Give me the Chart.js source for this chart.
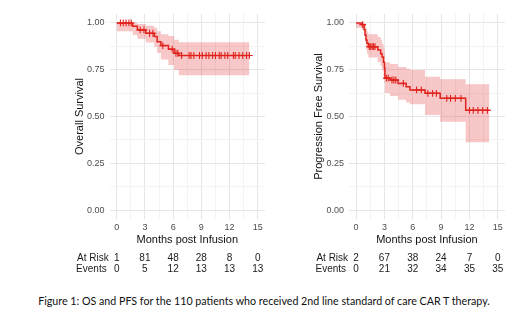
<!DOCTYPE html>
<html>
<head>
<meta charset="utf-8">
<script src="https://cdn.jsdelivr.net/npm/chart.js@4"></script>
<style>
  body { margin: 0; background: #fff; }
  #wrap { position: relative; width: 520px; height: 318px; overflow: hidden; }
  canvas { position: absolute; top: 0; }
  #osChart { left: 60px; }
  #pfsChart { left: 300px; }
  #caption {
    position: absolute; left: 4px; width: 520px; top: 294px;
    text-align: center; font-family: Lato, "Open Sans", sans-serif; font-size: 10.7px; color: #111;
  }
</style>
</head>
<body>
<div id="wrap">
  <canvas id="osChart" width="210" height="285"></canvas>
  <canvas id="pfsChart" width="210" height="285"></canvas>
  <div id="caption">Figure 1: OS and PFS for the 110 patients who received 2nd line standard of care CAR T therapy.</div>
</div>
<script>
// Overall survival (months, estimate, 95% CI)
const osTimes = [0, 1.7, 2.2, 3.1, 4.0, 4.3, 4.7, 5.5, 6.1, 6.6, 14.1];
const osSurv  = [1, 0.982, 0.963, 0.945, 0.927, 0.900, 0.879, 0.860, 0.838, 0.826, 0.826];
const osLower = [0.955, 0.936, 0.915, 0.895, 0.873, 0.840, 0.805, 0.775, 0.749, 0.720, 0.720];
const osUpper = [1, 1, 0.995, 0.985, 0.975, 0.955, 0.940, 0.930, 0.910, 0.897, 0.897];
const osCensor = [0.4, 0.7, 1.0, 1.3, 1.55, 2.5, 2.9, 3.5, 3.85, 4.9, 5.9, 6.3, 6.5, 6.9, 7.7, 7.9, 8.2,
                  8.8, 9.1, 9.5, 9.8, 10.2, 10.5, 10.9, 11.1, 11.5, 11.8, 12.4, 12.6, 13.0, 13.4, 13.8, 14.1];

// Progression free survival
const pfsTimes = [0, 0.6, 0.85, 0.95, 1.05, 1.15, 1.3, 2.3, 2.6, 2.75, 2.9, 3.0, 3.05, 3.6, 4.45, 5.3, 5.7, 7.3, 8.9, 11.6, 14.1];
const pfsSurv  = [1, 0.991, 0.964, 0.936, 0.909, 0.891, 0.873, 0.855, 0.836, 0.818, 0.790, 0.760, 0.705, 0.695, 0.677, 0.659, 0.642, 0.624, 0.597, 0.533, 0.533];
const pfsLower = [0.975, 0.965, 0.930, 0.895, 0.860, 0.835, 0.815, 0.790, 0.770, 0.745, 0.715, 0.680, 0.625, 0.610, 0.590, 0.575, 0.565, 0.508, 0.472, 0.362, 0.362];
const pfsUpper = [1, 1, 1, 0.990, 0.970, 0.955, 0.940, 0.925, 0.910, 0.890, 0.870, 0.840, 0.790, 0.780, 0.765, 0.755, 0.749, 0.713, 0.699, 0.672, 0.672];
const pfsCensor = [0.7, 1.4, 1.55, 1.7, 1.85, 2.0, 3.2, 3.4, 3.8, 4.0, 4.2, 5.0, 6.4, 6.9, 7.6, 8.1, 8.5,
                   9.6, 10.0, 10.5, 11.1, 12.0, 12.4, 12.9, 13.4, 13.9];

// risk table
const tableTimes = [0, 3, 6, 9, 12, 15];
const osAtRisk = [1, 81, 48, 28, 8, 0];
const osEvents = [0, 5, 12, 13, 13, 13];
const pfsAtRisk = [2, 67, 38, 24, 7, 0];
const pfsEvents = [0, 21, 32, 34, 35, 35];

const xTicks = [0, 1.5, 3, 4.5, 6, 7.5, 9, 10.5, 12, 13.5, 15];
const yTicks = [0, 0.125, 0.25, 0.375, 0.5, 0.625, 0.75, 0.875, 1];

const red = '#e0221c';
const band = 'rgba(232, 70, 70, 0.30)';

function survAt(times, surv, t) {
    let s = surv[0];
    for (let i = 0; i < times.length; i++) {
        if (times[i] <= t) s = surv[i];
    }
    return s;
}

function pts(times, vals) {
    return times.map((t, i) => ({x: t, y: vals[i]}));
}

function isMajor(v, step) {
    return Math.abs(v / step - Math.round(v / step)) < 1e-6;
}

const riskTable = {
    id: 'riskTable',
    afterDraw(chart, args, opts) {
        const ctx = chart.ctx;
        const x = chart.scales.x;
        ctx.save();
        ctx.font = '10px "Liberation Sans", Arial, sans-serif';
        ctx.fillStyle = '#1a1a1a';
        ctx.textBaseline = 'middle';
        ctx.textAlign = 'right';
        const labelX = x.getPixelForValue(0) - 8;
        ctx.fillText('At Risk', labelX, opts.rowY[0]);
        ctx.fillText('Events', labelX - 2, opts.rowY[1]);
        ctx.textAlign = 'center';
        tableTimes.forEach((t, i) => {
            const px = x.getPixelForValue(t);
            ctx.fillText(String(opts.atRisk[i]), px, opts.rowY[0]);
            ctx.fillText(String(opts.events[i]), px, opts.rowY[1]);
        });
        ctx.restore();
    }
};

function makeKM(id, cfg) {
    const censorPts = cfg.censor.map(t => ({x: t, y: survAt(cfg.times, cfg.surv, t)}));
    return new Chart(document.getElementById(id), {
        type: 'line',
        data: {
            datasets: [
                {data: pts(cfg.times, cfg.upper), stepped: true, borderWidth: 0, pointRadius: 0,
                 fill: false, backgroundColor: band, order: 3},
                {data: pts(cfg.times, cfg.lower), stepped: true, borderWidth: 0, pointRadius: 0,
                 fill: '-1', backgroundColor: band, order: 3},
                {data: pts(cfg.times, cfg.surv), stepped: true, borderColor: red, borderWidth: 1.5,
                 pointRadius: 0, fill: false, order: 1},
                {type: 'scatter', data: censorPts, pointStyle: 'cross', pointRadius: 3.4,
                 borderColor: red, borderWidth: 1.1, order: 0}
            ]
        },
        options: {
            responsive: false,
            animation: false,
            events: [],
            layout: {padding: {top: 13.6, right: cfg.padRight, bottom: 38.4, left: 0}},
            plugins: {
                legend: {display: false},
                tooltip: {enabled: false},
                riskTable: {atRisk: cfg.atRisk, events: cfg.events, rowY: [258.7, 269.5]}
            },
            scales: {
                x: {
                    type: 'linear', min: -0.75, max: 15.75,
                    afterBuildTicks: s => { s.ticks = xTicks.map(v => ({value: v})); },
                    afterFit: s => { s.height = 27.2; },
                    ticks: {
                        autoSkip: false, maxRotation: 0, padding: 3, color: '#4d4d4d',
                        font: {family: '"Liberation Sans", Arial, sans-serif', size: 9},
                        callback: v => isMajor(v, 3) ? String(v) : ''
                    },
                    grid: {
                        drawTicks: false,
                        color: c => isMajor(c.tick.value, 3) ? '#e6e6e6' : '#f3f3f3',
                        lineWidth: 1
                    },
                    border: {display: false},
                    title: {
                        display: true, text: 'Months post Infusion', color: '#111',
                        font: {family: '"Liberation Sans", Arial, sans-serif', size: 11},
                        padding: {top: 0, bottom: 0}
                    }
                },
                y: {
                    type: 'linear', min: -0.05, max: 1.05,
                    afterBuildTicks: s => { s.ticks = yTicks.map(v => ({value: v})); },
                    afterFit: s => { s.width = cfg.yWidth; },
                    ticks: {
                        padding: 5, color: '#4d4d4d',
                        font: {family: '"Liberation Sans", Arial, sans-serif', size: 9},
                        callback: v => isMajor(v, 0.25) ? v.toFixed(2) : ''
                    },
                    grid: {
                        drawTicks: false,
                        color: c => isMajor(c.tick.value, 0.25) ? '#e6e6e6' : '#f3f3f3',
                        lineWidth: 1
                    },
                    border: {display: false},
                    title: {
                        display: true, text: cfg.yTitle, color: '#111',
                        font: {family: '"Liberation Sans", Arial, sans-serif', size: 11},
                        padding: {top: cfg.titlePad, bottom: 0}
                    }
                }
            }
        },
        plugins: [riskTable]
    });
}

makeKM('osChart', {
    times: osTimes, surv: osSurv, lower: osLower, upper: osUpper, censor: osCensor,
    atRisk: osAtRisk, events: osEvents, yTitle: 'Overall Survival',
    yWidth: 49.6, padRight: 4.4, titlePad: 13.4
});

makeKM('pfsChart', {
    times: pfsTimes, surv: pfsSurv, lower: pfsLower, upper: pfsUpper, censor: pfsCensor,
    atRisk: pfsAtRisk, events: pfsEvents, yTitle: 'Progression Free Survival',
    yWidth: 49, padRight: 5, titlePad: 11.9
});
</script>
</body>
</html>
